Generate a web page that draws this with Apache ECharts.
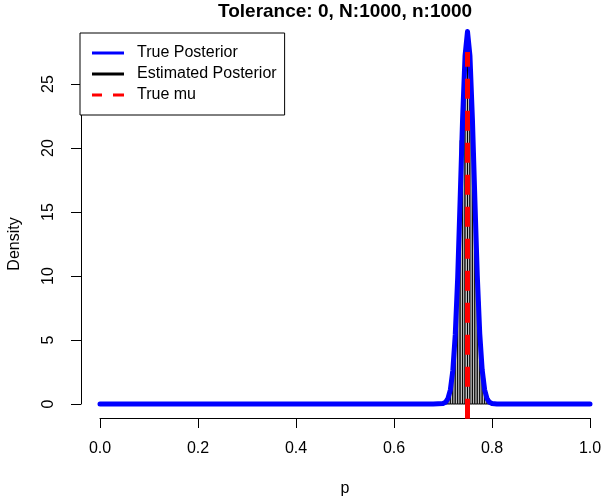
<!DOCTYPE html>
<html>
<head>
<meta charset="utf-8">
<script src="https://cdn.jsdelivr.net/npm/echarts@6/dist/echarts.min.js"></script>
<style>html,body{margin:0;padding:0;background:#fff}#c{width:604px;height:496px}</style>
</head>
<body>
<div id="c"></div>
<script>
const titleText = 'Tolerance: 0, N:1000, n:1000';
const xTicks = [0, 0.2, 0.4, 0.6, 0.8, 1.0];
const yTicks = [0, 5, 10, 15, 20, 25];
const histBreaks = [0.695, 0.700, 0.705, 0.710, 0.715, 0.720, 0.725, 0.730, 0.735, 0.740, 0.745,
                    0.750, 0.755, 0.760, 0.765, 0.770, 0.775, 0.780, 0.785, 0.790, 0.795, 0.800, 0.805];
const histDensity = [0.1, 0.2, 0.4, 0.8, 1.8, 3.6, 7.0, 12.0, 20.6, 24.6, 27.6,
                     27.8, 25.4, 19.6, 13.6, 8.0, 4.2, 2.0, 0.9, 0.4, 0.2, 0.1];
const curveP = [0, 0.5, 0.65, 0.68, 0.69, 0.70, 0.705, 0.71, 0.715, 0.72, 0.725, 0.73, 0.735, 0.74, 0.745,
                0.75, 0.755, 0.76, 0.765, 0.77, 0.775, 0.78, 0.785, 0.79, 0.795, 0.80, 0.81, 0.85, 1.0];
const curveDensity = [0, 0, 0, 0.0, 0.02, 0.04, 0.13, 0.41, 1.1, 2.6, 5.4, 9.9, 16.0, 22.3, 27.2,
                      29.1, 27.2, 22.3, 16.0, 10.0, 5.5, 2.65, 1.1, 0.4, 0.13, 0.04, 0.0, 0, 0];
const trueMu = 0.75;
const muSpan = [-1.16, 27.5];

const font = 'Liberation Sans, Arial, Helvetica, sans-serif';
const chart = echarts.init(document.getElementById('c'), null, {renderer: 'canvas'});

const histData = histDensity.map((d, i) => [histBreaks[i], histBreaks[i + 1], d]);
const curveData = curveP.map((p, i) => [p, curveDensity[i]]);
const muData = muSpan.map(v => [trueMu, v]);

chart.setOption({
  animation: false,
  backgroundColor: '#fff',
  title: {
    text: titleText, left: 218, top: 2, padding: 0,
    textStyle: {fontFamily: font, fontSize: 19, fontWeight: 'bold', color: '#000'}
  },
  legend: {
    orient: 'vertical', left: 80, top: 33, padding: [12, 8, 12, 12],
    borderColor: '#000', borderWidth: 1, backgroundColor: '#fff',
    itemWidth: 32, itemHeight: 14, itemGap: 5,
    textStyle: {fontFamily: font, fontSize: 16, color: '#000', padding: [0, 0, 0, 8]},
    data: [
      {name: 'True Posterior', icon: 'path://M0,0H32V3H0Z', itemStyle: {color: '#0000ff'}},
      {name: 'Estimated Posterior', icon: 'path://M0,0H32V3H0Z', itemStyle: {color: '#000'}},
      {name: 'True mu', icon: 'path://M0,0H10V3H0Z M21,0H32V3H21Z', itemStyle: {color: '#ff0000'}}
    ],
    selectedMode: false
  },
  grid: {left: 100, right: 14, top: 84, bottom: 92, containLabel: false, outerBoundsMode: 'none'},
  xAxis: {
    type: 'value', min: xTicks[0], max: xTicks[xTicks.length - 1], interval: 0.2,
    offset: 14,
    name: 'p', nameLocation: 'middle', nameGap: 63,
    nameTextStyle: {fontFamily: font, fontSize: 16, color: '#000'},
    axisLine: {show: true, onZero: false, lineStyle: {color: '#000', width: 1}},
    axisTick: {show: true, length: 10, lineStyle: {color: '#000'}},
    axisLabel: {fontFamily: font, fontSize: 16, color: '#000', margin: 23,
      formatter: v => v.toFixed(1)},
    splitLine: {show: false}
  },
  yAxis: {
    type: 'value', min: yTicks[0], max: yTicks[yTicks.length - 1], interval: 5,
    offset: 19,
    name: 'Density', nameLocation: 'middle', nameGap: 58, nameRotate: 90,
    nameTextStyle: {fontFamily: font, fontSize: 16, color: '#000'},
    axisLine: {show: true, onZero: false, lineStyle: {color: '#000', width: 1}},
    axisTick: {show: true, length: 10, lineStyle: {color: '#000'}},
    axisLabel: {fontFamily: font, fontSize: 16, color: '#000', margin: 24, rotate: 90},
    splitLine: {show: false}
  },
  series: [
    {
      name: 'Estimated Posterior', type: 'custom', z: 1, clip: false,
      encode: {x: [0, 1], y: 2},
      data: histData,
      renderItem: (params, api) => {
        const p0 = api.coord([api.value(0), 0]);
        const p1 = api.coord([api.value(1), api.value(2)]);
        return {
          type: 'rect',
          shape: {x: p0[0], y: p1[1], width: p1[0] - p0[0], height: p0[1] - p1[1]},
          style: {fill: '#bebebe', stroke: '#000', lineWidth: 1}
        };
      }
    },
    {
      name: 'True Posterior', type: 'line', z: 2, clip: false, symbol: 'none', smooth: false,
      data: curveData,
      lineStyle: {color: '#0000ff', width: 5, cap: 'round', join: 'round'},
      itemStyle: {color: '#0000ff'}
    },
    {
      name: 'True mu', type: 'line', z: 3, clip: false, symbol: 'none',
      data: muData,
      lineStyle: {color: '#ff0000', width: 5, type: [20, 12], cap: 'butt'},
      itemStyle: {color: '#ff0000'}
    }
  ]
});
</script>
</body>
</html>
